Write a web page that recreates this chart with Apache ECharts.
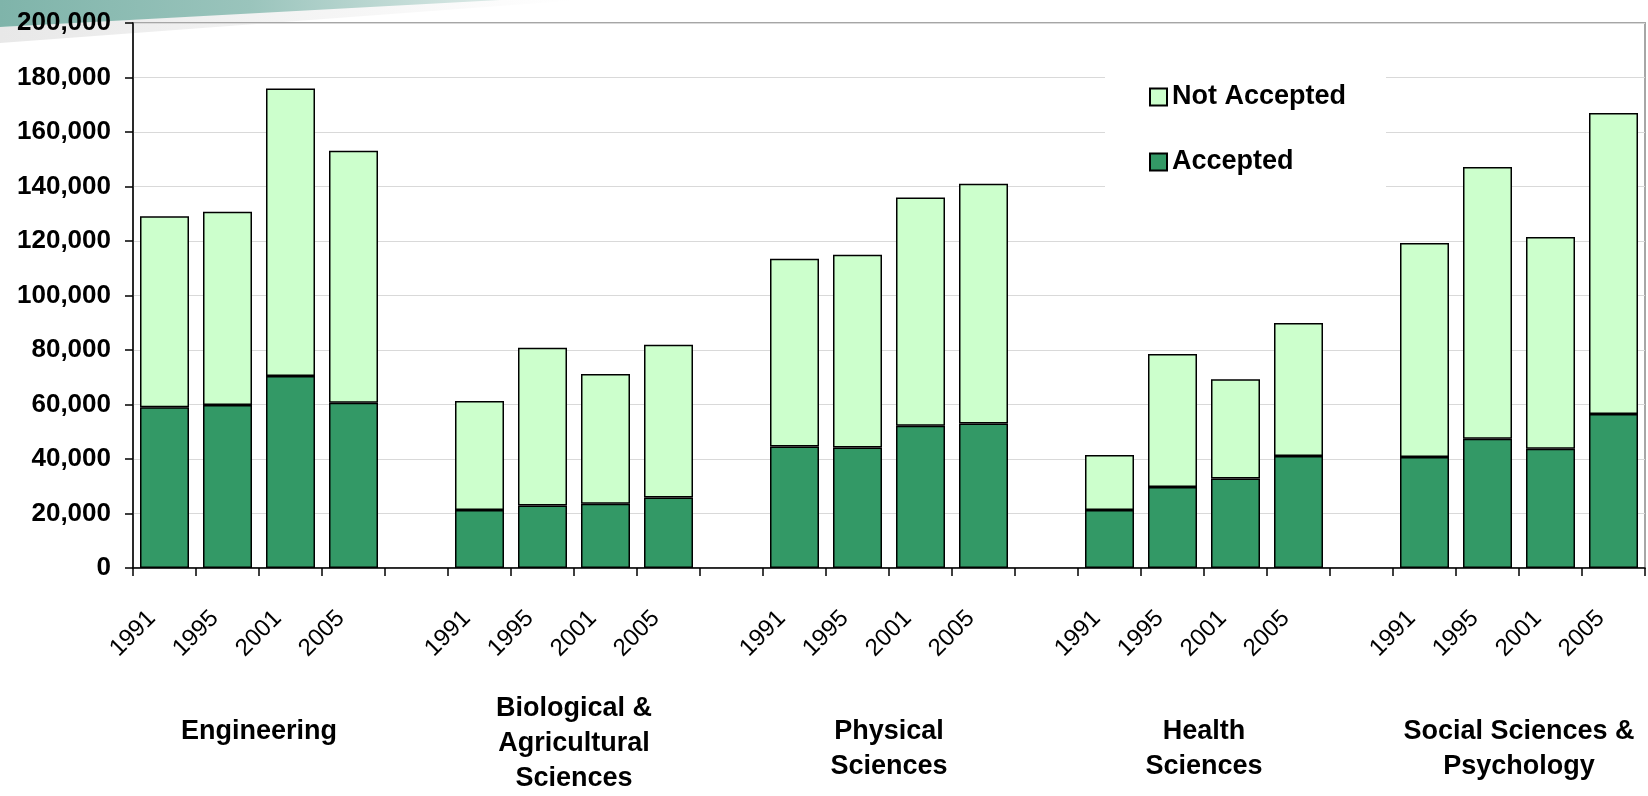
<!DOCTYPE html>
<html>
<head>
<meta charset="utf-8">
<script src="https://cdn.jsdelivr.net/npm/echarts@6/dist/echarts.min.js"></script>
<style>
  html, body { margin: 0; padding: 0; background: #fff; }
  #chart { width: 1648px; height: 796px; }
</style>
</head>
<body>
<div id="chart"></div>
<script>
        // field groups and survey years
        var groups = ['Engineering', 'Biological &\nAgricultural\nSciences', 'Physical\nSciences', 'Health\nSciences', 'Social Sciences &\nPsychology'];
        var years = ['1991', '1995', '2001', '2005'];
        // accepted / not accepted, one row per group, one value per year
        var accepted = [
            [59000, 59800, 70500, 60600],
            [21300, 22900, 23600, 25900],
            [44600, 44200, 52200, 53000],
            [21300, 29700, 32800, 41100],
            [40700, 47400, 43800, 56500]
        ];
        var notAccepted = [
            [70100, 70900, 105500, 92500],
            [40000, 57900, 47600, 56000],
            [68900, 70800, 83800, 88000],
            [20200, 48800, 36500, 48800],
            [78600, 99800, 77700, 110500]
        ];
        var yTicks = [0, 200000, 20000];

        // build the slots: 4 years then one empty slot between groups
        var slots = [], accData = [], naData = [];
        for (var g = 0; g < groups.length; g++) {
            for (var y = 0; y < years.length; y++) {
                slots.push(years[y]);
                accData.push(accepted[g][y]);
                naData.push(notAccepted[g][y]);
            }
            if (g < groups.length - 1) {
                slots.push('');
                accData.push('-');
                naData.push('-');
            }
        }
        // group labels sit on slot boundaries, in the middle of each group
        var groupSlots = [];
        for (var i = 0; i <= slots.length; i++) groupSlots.push('');
        for (var g = 0; g < groups.length; g++) {
            var pad = groups[g].split('\n').length > 2 ? 0 : 23;
            groupSlots[g * 5 + 2] = { value: groups[g], textStyle: { padding: [pad, 0, 0, 0] } };
        }

        var font = "'Liberation Sans', Arial, sans-serif";
        var chart = echarts.init(document.getElementById('chart'));
        var option = {
            animation: false,
            textStyle: { fontFamily: font },
            graphic: [
                {
                    type: 'polygon', z: -10, silent: true,
                    shape: { points: [[0, 27], [470, 0], [580, 0], [0, 43]] },
                    style: { fill: new echarts.graphic.LinearGradient(0, 0, 1, 0, [
                        { offset: 0, color: '#e8e8e8' }, { offset: 1, color: '#ffffff' }]) }
                },
                {
                    type: 'polygon', z: -10, silent: true,
                    shape: { points: [[0, 0], [500, 0], [0, 27]] },
                    style: { fill: new echarts.graphic.LinearGradient(0, 0, 1, 0, [
                        { offset: 0, color: '#7fb4aa' }, { offset: 0.5, color: '#9ac4bc' }, { offset: 1, color: '#dceae7' }]) }
                }
            ],
            grid: {
                left: 133, top: 23, width: 1514, height: 551,
                show: true, borderColor: '#a6a6a6', borderWidth: 2, backgroundColor: 'transparent'
            },
            legend: {
                data: ['Not Accepted', 'Accepted'],
                orient: 'vertical',
                left: 1105, top: 68,
                padding: [14, 40, 22, 44],
                backgroundColor: '#fff',
                icon: 'rect',
                itemWidth: 17, itemHeight: 17, itemGap: 35,
                textStyle: { fontSize: 27, fontWeight: 'bold', color: '#000', lineHeight: 30, fontFamily: font }
            },
            xAxis: [
                {
                    type: 'category',
                    data: slots,
                    axisLine: { lineStyle: { color: '#000', width: 1.5 } },
                    axisTick: { show: true, interval: 0, length: 8, lineStyle: { color: '#000', width: 1.5 } },
                    axisLabel: { interval: 0, rotate: 45, margin: 34, fontSize: 24, color: '#000', fontFamily: font,
                        padding: [0, 18, 0, 0] },
                    splitLine: { show: false }
                },
                {
                    type: 'category',
                    position: 'bottom',
                    boundaryGap: false,
                    data: groupSlots,
                    axisLine: { show: false },
                    axisTick: { show: false },
                    axisLabel: { interval: 0, margin: 123, fontSize: 27, fontWeight: 'bold', color: '#000',
                        lineHeight: 35, verticalAlign: 'top', align: 'center', fontFamily: font },
                    splitLine: { show: false }
                }
            ],
            yAxis: {
                type: 'value',
                min: yTicks[0], max: yTicks[1], interval: yTicks[2],
                axisLine: { show: true, lineStyle: { color: '#000', width: 1.5 } },
                axisTick: { show: true, length: 8, lineStyle: { color: '#000', width: 1.5 } },
                axisLabel: {
                    margin: 22, fontSize: 26, fontWeight: 'bold', color: '#000', fontFamily: font,
                    formatter: function (v) { return v.toLocaleString('en-US'); }
                },
                splitLine: { lineStyle: { color: '#d9d9d9', width: 1 } }
            },
            series: [
                {
                    name: 'Accepted', type: 'bar', stack: 'total', xAxisIndex: 0,
                    barWidth: 49, data: accData,
                    itemStyle: { color: '#339966', borderColor: '#000', borderWidth: 1.5 }
                },
                {
                    name: 'Not Accepted', type: 'bar', stack: 'total', xAxisIndex: 0,
                    barWidth: 49, data: naData,
                    itemStyle: { color: '#ccffcc', borderColor: '#000', borderWidth: 1.5 }
                }
            ]
        };
        chart.setOption(option);
</script>
</body>
</html>
